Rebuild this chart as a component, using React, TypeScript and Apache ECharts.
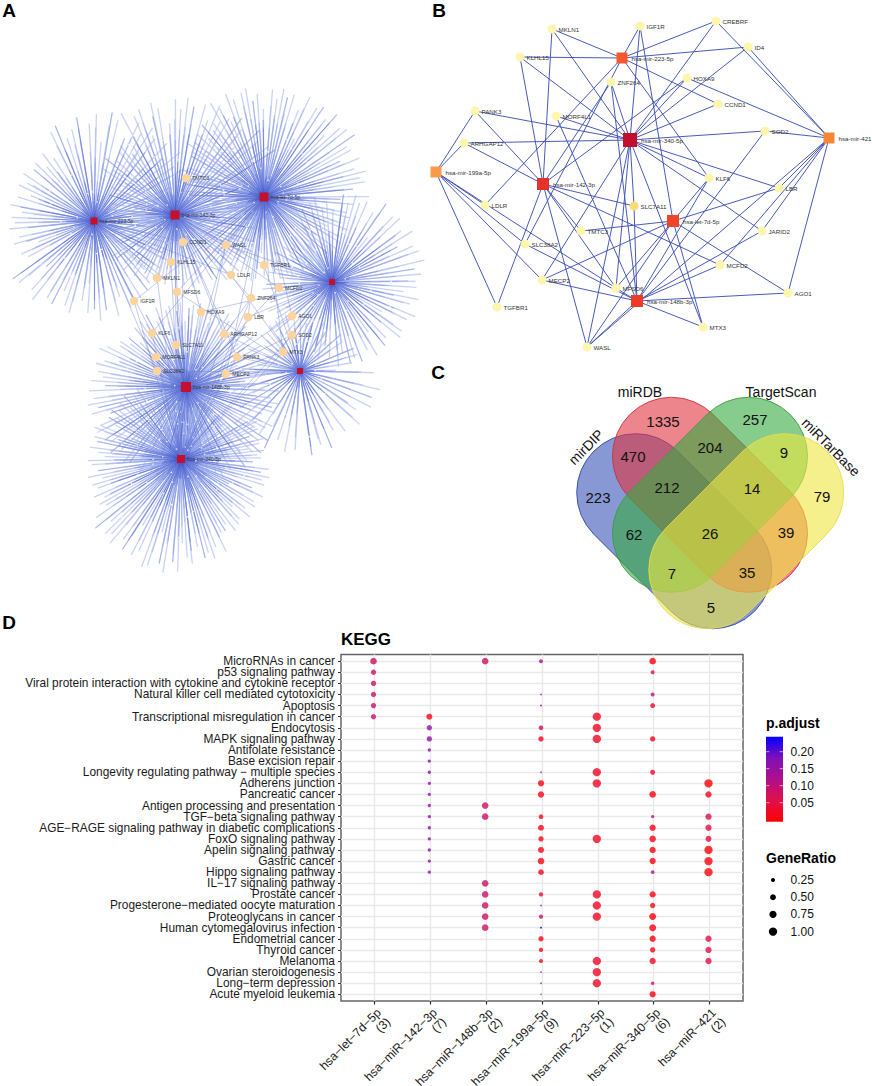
import React, { useEffect, useRef } from "react";
import * as echarts from "echarts";

const FONT = '"Liberation Sans", Arial, sans-serif';

// ---------- Panel A : hubs, targets and their spokes ----------
const aHubNames = ["hsa-mir-223-5p", "hsa-mir-142-3p", "hsa-let-7d-5p", "hsa-mir-421", "hsa-mir-148b-3p", "hsa-mir-199a-5p", "hsa-mir-340-5p"];
const aHubLabels = ["hsa-mir-223-5p", "hsa-mir-142-3p", "hsa-let-7d-5p", "", "hsa-mir-148b-3p", "", "hsa-mir-340-5p"];
const aHubX = [94, 175, 264, 332, 186, 300, 181];
const aHubY = [221, 215, 197, 282, 387, 371, 459];
const aHubSize = [7, 9, 9, 6, 10, 6, 8];
const aSpokeCount = [140, 170, 190, 140, 190, 80, 210];
// reach of spokes by 30-degree sector, clockwise from east
const aSpokeReach = [
  [80, 90, 100, 95, 100, 85, 85, 85, 105, 110, 110, 85],
  [85, 85, 75, 70, 75, 70, 70, 90, 115, 118, 120, 95],
  [90, 90, 85, 85, 85, 75, 85, 95, 110, 110, 110, 105],
  [90, 88, 85, 80, 80, 70, 65, 60, 85, 90, 95, 95],
  [95, 100, 100, 95, 100, 100, 95, 80, 85, 85, 85, 85],
  [82, 80, 85, 85, 85, 70, 60, 55, 60, 55, 55, 60],
  [90, 90, 105, 115, 110, 95, 92, 85, 70, 70, 60, 85],
];
const spokeLengthSteps = [1, 0.78, 0.93, 0.66, 0.97, 0.85, 0.72, 1, 0.88, 0.6, 0.94, 0.8, 0.7, 0.98, 0.83, 0.9, 0.75];
const spokeAngleSteps = [0, 0.7, -0.5, 0.3, -0.8, 0.9, -0.2, 0.5, -0.6];
const spokeCoreSteps = [0.3, 0.42, 0.22, 0.9, 0.35, 0.2, 0.5, 0.25, 0.38, 0.2, 0.75];
const spokeDotSteps = [0.42, 0.63, 0.3, 0.78, 0.52, 0.2, 0.7];

const aGeneNames = ["TMTC3", "CCND1", "WASL", "KLHL15", "TGFBR1", "LDLR", "MKLN1", "MCFD2", "MFSD6", "ZNF264", "IGF1R", "HOXA9", "LBR", "AGO1", "KLF6", "ARHGAP12", "SOD2", "SLC7A11", "MORF4L1", "PANK3", "MTX3", "SLC38A2", "MECP2"];
const aGeneX = [186, 183, 226, 171, 264, 231, 157, 279, 177, 251, 134, 201, 248, 292, 152, 224, 292, 176, 156, 237, 283, 157, 226];
const aGeneY = [178, 242, 245, 262, 265, 275, 278, 288, 292, 298, 301, 312, 317, 316, 333, 334, 335, 345, 357, 357, 352, 371, 374];

// ---------- Panel B ----------
const bMirNames = ["hsa-mir-223-5p", "hsa-mir-340-5p", "hsa-mir-421", "hsa-mir-199a-5p", "hsa-mir-142-3p", "hsa-let-7d-5p", "hsa-mir-148b-3p"];
const bMirX = [622, 630, 829, 436, 543, 673, 637];
const bMirY = [58, 140, 138, 172, 184, 221, 301];
const bMirSize = [11, 14, 11, 11, 12, 12, 12];
const bMirColor = ["#f4582c", "#c20f2c", "#f58636", "#f79a4a", "#e4342a", "#f0442a", "#f03a28"];
const bGeneNames = ["MKLN1", "IGF1R", "CREBRF", "ID4", "KLHL15", "ZNF264", "HOXA9", "CCND1", "PANK3", "MORF4L1", "ARHGAP12", "SOD2", "KLF6", "LBR", "SLC7A11", "LDLR", "TMTC3", "JARID2", "SLC38A2", "MCFD2", "MECP2", "MFSD6", "AGO1", "TGFBR1", "MTX3", "WASL"];
const bGeneX = [552, 640, 716, 748, 520, 611, 687, 718, 475, 556, 464, 765, 709, 779, 634, 485, 581, 762, 525, 720, 542, 616, 788, 497, 703, 587];
const bGeneY = [29, 26, 21, 47, 57, 82, 78, 104, 111, 116, 143, 131, 178, 188, 206, 205, 231, 231, 244, 265, 280, 288, 293, 307, 327, 347];
const mirTargets: Record<string, string[]> = {
  "hsa-mir-223-5p": ["MKLN1", "IGF1R", "CREBRF", "ID4", "KLHL15", "CCND1", "KLF6", "LDLR", "SLC38A2"],
  "hsa-mir-340-5p": ["MKLN1", "KLHL15", "IGF1R", "CREBRF", "ID4", "ZNF264", "HOXA9", "CCND1", "SOD2", "PANK3", "MORF4L1", "ARHGAP12", "KLF6", "LBR", "JARID2", "SLC7A11", "MTX3", "MFSD6", "WASL", "MECP2"],
  "hsa-mir-421": ["CREBRF", "ID4", "HOXA9", "SOD2", "LBR", "JARID2", "MCFD2", "AGO1", "WASL"],
  "hsa-mir-199a-5p": ["PANK3", "ARHGAP12", "SLC38A2", "MECP2", "MFSD6", "TGFBR1", "LDLR"],
  "hsa-mir-142-3p": ["MKLN1", "KLHL15", "ZNF264", "HOXA9", "PANK3", "ARHGAP12", "SLC7A11", "TMTC3", "MFSD6", "MCFD2", "TGFBR1", "WASL"],
  "hsa-let-7d-5p": ["IGF1R", "KLF6", "LBR", "TMTC3", "AGO1", "WASL", "MTX3", "MECP2", "MFSD6"],
  "hsa-mir-148b-3p": ["ZNF264", "SLC7A11", "MECP2", "MFSD6", "AGO1", "MTX3", "WASL", "JARID2", "MCFD2", "SOD2", "SLC38A2", "MORF4L1", "KLF6"],
};

// ---------- Panel C ----------
const vennSets = ["mirDIP", "miRDB", "TargetScan", "miRTarBase"];
const vennFill = ["rgba(57,83,184,0.6)", "rgba(224,52,64,0.6)", "rgba(53,170,64,0.6)", "rgba(238,230,64,0.6)"];
const vennStroke = ["#2c44a8", "#c83040", "#3a9c40", "#e4dc50"];
const vennCenterX = [674.2, 710, 710, 746.3];
const vennCenterY = [531.2, 494.8, 494.8, 531.2];
const vennRotation = [-45, -45, 45, 45];
const vennLabelX = [586, 640, 781, 831];
const vennLabelY = [447, 392, 392, 447];
const vennLabelRotation = [45, 0, 0, -45];
const vennCounts = ["1335", "257", "470", "204", "9", "212", "14", "223", "79", "62", "26", "39", "7", "35", "5"];
const vennCountX = [663, 755, 633, 710, 784, 667, 752, 598, 822, 634, 710, 786, 672, 747, 711];
const vennCountY = [421, 419, 456, 447, 452, 487, 488, 497, 496, 534, 533, 532, 573, 572, 607];

// ---------- Panel D ----------
const keggPathways = [
  "MicroRNAs in cancer", "p53 signaling pathway", "Viral protein interaction with cytokine and cytokine receptor",
  "Natural killer cell mediated cytotoxicity", "Apoptosis", "Transcriptional misregulation in cancer", "Endocytosis",
  "MAPK signaling pathway", "Antifolate resistance", "Base excision repair", "Longevity regulating pathway \u2212 multiple species",
  "Adherens junction", "Pancreatic cancer", "Antigen processing and presentation", "TGF\u2212beta signaling pathway",
  "AGE\u2212RAGE signaling pathway in diabetic complications", "FoxO signaling pathway", "Apelin signaling pathway", "Gastric cancer",
  "Hippo signaling pathway", "IL\u221217 signaling pathway", "Prostate cancer", "Progesterone\u2212mediated oocyte maturation",
  "Proteoglycans in cancer", "Human cytomegalovirus infection", "Endometrial cancer", "Thyroid cancer", "Melanoma",
  "Ovarian steroidogenesis", "Long\u2212term depression", "Acute myeloid leukemia",
];
const keggMirs = ["hsa\u2212let\u22127d\u22125p\n(3)", "hsa\u2212miR\u2212142\u22123p\n(7)", "hsa\u2212miR\u2212148b\u22123p\n(2)", "hsa\u2212miR\u2212199a\u22125p\n(9)", "hsa\u2212miR\u2212223\u22125p\n(1)", "hsa\u2212miR\u2212340\u22125p\n(6)", "hsa\u2212miR\u2212421\n(2)"];
// [pathway row, GeneRatio, p.adjust]
const let7dDots = [[1, 0.64, 0.085], [2, 0.41, 0.09], [3, 0.41, 0.09], [4, 0.41, 0.09], [5, 0.41, 0.09], [6, 0.41, 0.09]];
const mir142Dots = [[6, 0.52, 0.025], [7, 0.41, 0.165], [8, 0.41, 0.165], [9, 0.16, 0.165], [10, 0.16, 0.165], [11, 0.16, 0.165], [12, 0.16, 0.165], [13, 0.16, 0.165], [14, 0.16, 0.165], [15, 0.16, 0.165], [16, 0.16, 0.165], [17, 0.16, 0.165], [18, 0.16, 0.165], [19, 0.16, 0.165], [20, 0.16, 0.165]];
const mir148Dots = [[1, 0.64, 0.085], [14, 0.64, 0.085], [15, 0.64, 0.085], [21, 0.64, 0.085], [22, 0.64, 0.085], [23, 0.64, 0.085], [24, 0.64, 0.085], [25, 0.64, 0.085]];
const mir199Dots = [[1, 0.23, 0.115], [4, 0.04, 0.165], [5, 0.06, 0.165], [7, 0.31, 0.08], [8, 0.41, 0.03], [11, 0.04, 0.165], [12, 0.58, 0.015], [13, 0.58, 0.015], [15, 0.31, 0.03], [16, 0.52, 0.015], [17, 0.41, 0.02], [18, 0.52, 0.015], [19, 0.64, 0.015], [20, 0.46, 0.025], [22, 0.27, 0.04], [23, 0.04, 0.18], [24, 0.27, 0.085], [25, 0.06, 0.23], [26, 0.41, 0.02], [27, 0.27, 0.025], [28, 0.23, 0.025], [29, 0.04, 0.165], [30, 0.04, 0.165], [31, 0.03, 0.165]];
const mir223Dots = [[6, 1, 0.03], [7, 1, 0.03], [8, 1, 0.03], [11, 1, 0.03], [12, 1, 0.03], [17, 1, 0.03], [22, 1, 0.03], [23, 1, 0.03], [24, 1, 0.03], [28, 1, 0.03], [29, 1, 0.03], [30, 1, 0.03]];
const mir340Dots = [[1, 0.64, 0.012], [2, 0.23, 0.085], [4, 0.23, 0.095], [5, 0.36, 0.035], [8, 0.41, 0.03], [11, 0.36, 0.03], [13, 0.64, 0.012], [15, 0.16, 0.11], [16, 0.58, 0.012], [17, 0.64, 0.012], [18, 0.58, 0.012], [19, 0.58, 0.012], [20, 0.19, 0.125], [22, 0.58, 0.012], [23, 0.41, 0.015], [24, 0.7, 0.012], [25, 0.7, 0.012], [26, 0.58, 0.012], [27, 0.41, 0.015], [28, 0.58, 0.03], [30, 0.19, 0.085], [31, 0.58, 0.012]];
const mir421Dots = [[12, 1, 0.008], [13, 0.58, 0.025], [15, 0.58, 0.055], [16, 0.58, 0.055], [17, 0.52, 0.05], [18, 1, 0.008], [19, 1, 0.008], [20, 1, 0.008], [26, 0.58, 0.055], [27, 0.58, 0.055], [28, 0.58, 0.055]];
const keggColumns = [let7dDots, mir142Dots, mir148Dots, mir199Dots, mir223Dots, mir340Dots, mir421Dots];
const pTicks = [0.2, 0.15, 0.1, 0.05];
const ratioTicks = [0.25, 0.5, 0.75, 1];
const pColors = ["#ff0000", "#e0104a", "#b00f8a", "#8010b8", "#0000ff"];

const ratioSize = (r: number) => 8.3 * Math.sqrt(r);

function buildSpokes() {
  const pale: number[][][] = [];
  const mid: number[][][] = [];
  const core: number[][][] = [];
  const dots: number[][] = [];
  let n = 0;
  aHubNames.forEach((_, h) => {
    const count = aSpokeCount[h];
    for (let i = 0; i < count; i++) {
      n++;
      const deg = (i * 360) / count + spokeAngleSteps[n % spokeAngleSteps.length] * (360 / count);
      const norm = ((deg % 360) + 360) % 360;
      const reach = aSpokeReach[h][Math.floor(norm / 30) % 12] * spokeLengthSteps[n % spokeLengthSteps.length];
      const a = (norm * Math.PI) / 180;
      const dx = Math.cos(a);
      const dy = Math.sin(a);
      const hub = [aHubX[h], aHubY[h]];
      const at = (f: number) => [hub[0] + dx * reach * f, hub[1] + dy * reach * f];
      pale.push([hub, at(1)]);
      const c = spokeCoreSteps[n % spokeCoreSteps.length];
      mid.push([hub, at(Math.min(1, c + 0.3))]);
      if (n % 2 === 0) core.push([hub, at(c)]);
      if (n % 5 === 0) dots.push(at(spokeDotSteps[n % spokeDotSteps.length]));
    }
  });
  return { pale, mid, core, dots };
}

function networkEdges(hubNames: string[]) {
  const links: any[] = [];
  hubNames.forEach((m) => (mirTargets[m] || []).forEach((g) => links.push({ source: m, target: g })));
  return links;
}

function buildOption() {
  const { pale, mid, core, dots } = buildSpokes();
  const smallLabel = (size: number) => ({ show: true, position: "right" as const, distance: 2, fontSize: size, fontFamily: FONT, color: "#333" });

  const graphic: any[] = [];
  [["A", 9, 10], ["B", 439, 10], ["C", 438, 372], ["D", 9, 622]].forEach(([t, x, y]) =>
    graphic.push({ type: "text", x, y, style: { text: t, fontSize: 19, fontWeight: "bold", fontFamily: FONT, fill: "#000", align: "center", verticalAlign: "middle" } })
  );
  vennSets.forEach((s, i) => {
    const r = 59;
    const L = 109 + 2 * r;
    graphic.push({
      type: "rect",
      x: vennCenterX[i],
      y: vennCenterY[i],
      rotation: (vennRotation[i] * Math.PI) / 180,
      shape: { x: -L / 2, y: -r, width: L, height: 2 * r, r },
      style: { fill: vennFill[i], stroke: vennStroke[i], lineWidth: 0.8 },
    });
    graphic.push({
      type: "text",
      x: vennLabelX[i],
      y: vennLabelY[i],
      rotation: (vennLabelRotation[i] * Math.PI) / 180,
      style: { text: s, fontSize: 14, fontFamily: FONT, fill: "#111", align: "center", verticalAlign: "middle" },
    });
  });
  vennCounts.forEach((c, i) =>
    graphic.push({ type: "text", x: vennCountX[i], y: vennCountY[i], style: { text: c, fontSize: 15, fontFamily: FONT, fill: "#111", align: "center", verticalAlign: "middle" } })
  );
  graphic.push({ type: "text", x: 341, y: 639, style: { text: "KEGG", fontSize: 17, fontWeight: "bold", fontFamily: FONT, fill: "#000", align: "left", verticalAlign: "middle" } });
  graphic.push({ type: "text", x: 766, y: 723, style: { text: "p.adjust", fontSize: 14, fontWeight: "bold", fontFamily: FONT, fill: "#000", align: "left", verticalAlign: "middle" } });
  graphic.push({
    type: "rect",
    shape: { x: 766, y: 736.7, width: 17, height: 85 },
    style: { fill: new echarts.graphic.LinearGradient(0, 0, 0, 1, [...pColors].reverse().map((color, i) => ({ offset: i / 4, color }))) },
  });
  pTicks.forEach((p, i) => {
    const y = 751.7 + i * 17;
    graphic.push({ type: "line", shape: { x1: 766, y1: y, x2: 769.4, y2: y }, style: { stroke: "#fff", lineWidth: 0.6 } });
    graphic.push({ type: "line", shape: { x1: 779.6, y1: y, x2: 783, y2: y }, style: { stroke: "#fff", lineWidth: 0.6 } });
    graphic.push({ type: "text", x: 790.5, y, style: { text: p.toFixed(2), fontSize: 12, fontFamily: FONT, fill: "#111", align: "left", verticalAlign: "middle" } });
  });
  graphic.push({ type: "text", x: 766, y: 858, style: { text: "GeneRatio", fontSize: 14, fontWeight: "bold", fontFamily: FONT, fill: "#000", align: "left", verticalAlign: "middle" } });
  ratioTicks.forEach((r, i) => {
    const y = 880 + i * 17.2;
    graphic.push({ type: "circle", shape: { cx: 773, cy: y, r: ratioSize(r) / 2 }, style: { fill: "#000" } });
    graphic.push({ type: "text", x: 790.5, y, style: { text: r.toFixed(2), fontSize: 12, fontFamily: FONT, fill: "#111", align: "left", verticalAlign: "middle" } });
  });

  const spokeLayers = [
    { list: pale, style: { color: "#a9b6ee", width: 1.3, opacity: 0.6 } },
    { list: mid, style: { color: "#8395e4", width: 0.9, opacity: 0.55 } },
    { list: core, style: { color: "#3248c4", width: 0.7, opacity: 0.5 } },
  ];
  const series: any[] = [];
  spokeLayers.forEach((layer) =>
    series.push({
      type: "lines",
      coordinateSystem: "cartesian2d",
      xAxisIndex: 0,
      yAxisIndex: 0,
      polyline: false,
      silent: true,
      lineStyle: layer.style,
      data: layer.list.map((coords) => ({ coords })),
      z: 1,
    })
  );
  series.push({
    type: "scatter",
    xAxisIndex: 0,
    yAxisIndex: 0,
    symbol: "rect",
    symbolSize: 1.4,
    silent: true,
    itemStyle: { color: "#ffffff", opacity: 0.85 },
    data: dots,
    z: 2,
  });
  // Panel A graph
  series.push({
    type: "graph",
    layout: "none",
    coordinateSystem: "cartesian2d",
    xAxisIndex: 0,
    yAxisIndex: 0,
    silent: true,
    z: 3,
    lineStyle: { color: "#6c7fd6", width: 0.6, opacity: 0.7, curveness: 0 },
    data: [
      ...aHubNames.map((name, i) => ({
        name,
        value: [aHubX[i], aHubY[i]],
        symbol: "rect",
        symbolSize: aHubSize[i],
        itemStyle: { color: "#c4102c" },
        label: { ...smallLabel(5), formatter: aHubLabels[i] || " " },
      })),
      ...aGeneNames.map((name, i) => ({
        name,
        value: [aGeneX[i], aGeneY[i]],
        symbol: "circle",
        symbolSize: 8.5,
        itemStyle: { color: "#fdd59c" },
        label: smallLabel(5),
      })),
    ],
    links: networkEdges(aHubNames),
  });
  // Panel B graph
  series.push({
    type: "graph",
    layout: "none",
    coordinateSystem: "cartesian2d",
    xAxisIndex: 0,
    yAxisIndex: 0,
    silent: true,
    z: 3,
    lineStyle: { color: "#3f51b5", width: 1, opacity: 0.95, curveness: 0 },
    data: [
      ...bGeneNames.map((name, i) => ({
        name,
        value: [bGeneX[i], bGeneY[i]],
        symbol: "circle",
        symbolSize: 9,
        itemStyle: { color: name === "SLC7A11" ? "#fadc7e" : "#fdf7ae" },
        label: smallLabel(6.2),
      })),
      ...bMirNames.map((name, i) => ({
        name,
        value: [bMirX[i], bMirY[i]],
        symbol: "rect",
        symbolSize: bMirSize[i],
        itemStyle: { color: bMirColor[i] },
        label: { ...smallLabel(6.2), distance: 4 },
      })),
    ],
    links: networkEdges(bMirNames),
  });
  // Panel D
  const dotData: number[][] = [];
  keggColumns.forEach((col, c) => col.forEach(([row, ratio, p]) => dotData.push([c + 1, row, ratio, p])));
  const dotSeriesIndex = series.length;
  series.push({
    type: "scatter",
    xAxisIndex: 1,
    yAxisIndex: 1,
    data: dotData,
    symbol: "circle",
    symbolSize: (v: number[]) => ratioSize(v[2]),
    symbolOffset: [-1, 0],
    encode: { x: 0, y: 1 },
    z: 4,
  });

  const ones = keggMirs.map((_, i) => i + 1);
  const rows = keggPathways.map((_, i) => i + 1);
  return {
    animation: false,
    backgroundColor: "#fff",
    textStyle: { fontFamily: FONT },
    grid: [
      { left: 0, top: 0, width: 872, height: 1086, show: false, outerBoundsMode: "none" },
      { left: 341, top: 654.5, width: 402, height: 346.5, show: true, borderColor: "#666", borderWidth: 1.5, backgroundColor: "#fff", z: 0, outerBoundsMode: "none" },
      // the pathway names: a category axis whose bands line up with the rows of the panel above
      { left: 341, top: 655.6, width: 402, height: 344.3, show: false, outerBoundsMode: "none" },
    ],
    xAxis: [
      { type: "value", gridIndex: 0, min: 0, max: 872, show: false, splitLine: { show: false } },
      {
        type: "value",
        gridIndex: 1,
        min: 0.4,
        max: 7.6,
        axisLine: { show: false },
        axisTick: { show: true, length: 3.5, customValues: ones, lineStyle: { color: "#333", width: 1.2 } },
        axisLabel: {
          customValues: ones,
          showMinLabel: true,
          showMaxLabel: true,
          rotate: 45,
          align: "right",
          verticalAlign: "top",
          margin: 5,
          fontSize: 12.2,
          lineHeight: 13,
          color: "#1a1a1a",
          fontFamily: FONT,
          formatter: (v: number) => keggMirs[v - 1] ?? "",
        },
        splitLine: { show: true, lineStyle: { color: "#e9e9e9", width: 1.4 } },
      },
      { type: "value", gridIndex: 2, min: 0, max: 1, show: false, splitLine: { show: false } },
    ],
    yAxis: [
      { type: "value", gridIndex: 0, min: 0, max: 1086, inverse: true, show: false, splitLine: { show: false } },
      {
        type: "value",
        gridIndex: 1,
        min: 0.4,
        max: 31.6,
        inverse: true,
        axisLine: { show: false },
        axisTick: { show: true, length: 3, customValues: rows, lineStyle: { color: "#333", width: 1 } },
        axisLabel: { show: false },
        splitLine: { show: true, lineStyle: { color: "#e9e9e9", width: 1.4 } },
      },
      {
        type: "category",
        gridIndex: 2,
        data: keggPathways,
        inverse: true,
        axisLine: { show: false },
        axisTick: { show: false },
        splitLine: { show: false },
        axisLabel: { interval: 0, margin: 6, fontSize: 11.9, color: "#1a1a1a", fontFamily: FONT },
      },
    ],
    visualMap: [
      {
        show: false,
        type: "continuous",
        seriesIndex: dotSeriesIndex,
        dimension: 3,
        min: 0,
        max: 0.244,
        inRange: { color: pColors },
      },
    ],
    graphic,
    series,
  };
}

export default function App() {
  const ref = useRef<HTMLDivElement>(null);
  useEffect(() => {
    const chart = echarts.init(ref.current!, undefined, { renderer: "svg" });
    chart.setOption(buildOption() as any);
    return () => chart.dispose();
  }, []);
  return <div ref={ref} style={{ position: "absolute", left: 0, top: 0, width: 872, height: 1086 }} />;
}
